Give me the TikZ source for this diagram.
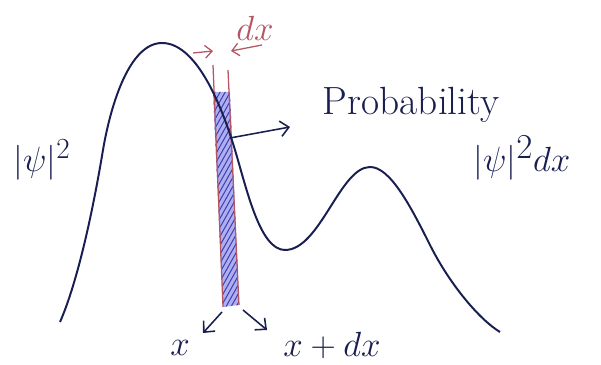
\documentclass[tikz,border=0pt]{standalone}
\usetikzlibrary{arrows.meta}
\definecolor{inkcol}{RGB}{25,30,80}
\definecolor{stripcol}{RGB}{180,85,100}
\definecolor{hatchcol}{RGB}{60,60,185}
\definecolor{shadecol}{RGB}{175,175,238}
\tikzset{
  wave/.style={draw=inkcol,line width=1.4pt,line join=round},
  edgeline/.style={draw=stripcol,line width=0.9pt},
  note/.style={text=inkcol,font=\fontsize{28}{32}\selectfont},
  bignote/.style={text=inkcol,font=\fontsize{34}{38}\selectfont},
  ptr/.style={draw=inkcol,line width=1.1pt,-{Straight Barb[length=6pt,width=11pt]}},
  dxptr/.style={draw=stripcol,line width=0.9pt,-{Straight Barb[length=5pt,width=9pt]}},
}
\begin{document}
\begin{tikzpicture}[x=0.025cm,y=-0.025cm]
  \useasboundingbox (0,0) rectangle (601,365);
  % shaded strip
  \begin{scope}
    \clip (213,92) -- (230,92) -- (239,305) -- (223,307) -- cycle;
    \fill[shadecol] (200,80) rectangle (250,320);
    \foreach \k in {0,...,34}
      \draw[hatchcol,line width=0.7pt] (205,110+9*\k) -- (250,30+9*\k);
  \end{scope}
  % strip edges
  \draw[edgeline] (213,65) -- (223,307);
  \draw[edgeline] (228,70) -- (239,305);
  % the curve
  \draw[wave] (60,322) .. controls (72,295) and (88,240) .. (103,150)
    .. controls (111,103) and (130,43) .. (162,43)
    .. controls (195,43) and (220,100) .. (235,150)
    .. controls (247,190) and (260,250) .. (285,250)
    .. controls (320,250) and (340,167) .. (370,167)
    .. controls (390,167) and (410,205) .. (430,245)
    .. controls (450,285) and (480,320) .. (500,332);
  % labels
  \node[note] (psisq) at (42,160) {$|\psi|^2$};
  \node[note,anchor=west] (prob) at (318,105) {Probability};
  \node[bignote] (probdx) at (522,158) {$|\psi|^2dx$};
  \node[bignote,text=stripcol] (dxlab) at (255,28) {$dx$};
  \node[bignote] (xlab) at (180,348) {$x$};
  \node[note] (xdxlab) at (332,345) {$x+dx$};
  % arrows
  \coordinate (lfrom) at (193,53);
  \coordinate (lto) at (213,51);
  \coordinate (rfrom) at (262,45);
  \coordinate (rto) at (231,51);
  \draw[dxptr] (lfrom) -- (lto);
  \draw[dxptr] (rfrom) -- (rto);
  \coordinate (pin) at (230,138);
  \coordinate (probtip) at (290,127);
  \draw[ptr] (pin) -- (probtip);
  \coordinate (bl) at (222,312);
  \coordinate (bltip) at (203,333);
  \coordinate (br) at (243,310);
  \coordinate (brtip) at (267,330);
  \draw[ptr] (bl) -- (bltip);
  \draw[ptr] (br) -- (brtip);
\end{tikzpicture}
\end{document}
